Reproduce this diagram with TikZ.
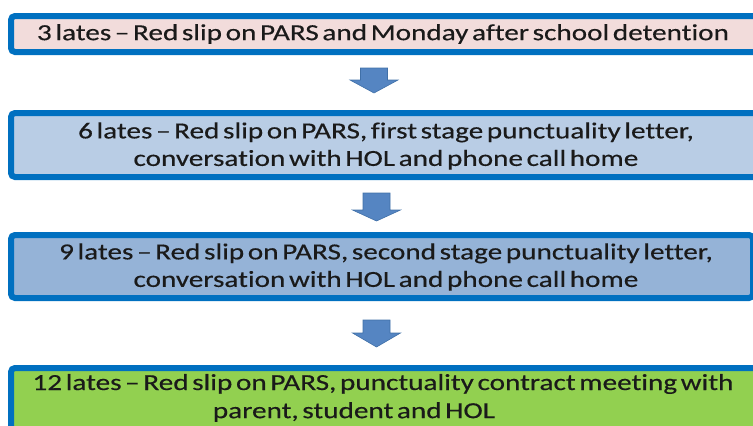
\documentclass[tikz,border=0pt]{standalone}
\usepackage{fontspec}
\setmainfont[FakeStretch=1.27,WordSpace=0.55,Ligatures={NoCommon},FakeBold=0.4]{Carlito}
\usetikzlibrary{calc}
\definecolor{bordblue}{HTML}{0070C0}
\definecolor{fillpink}{HTML}{F2DCDB}
\definecolor{filllblue}{HTML}{B9CDE5}
\definecolor{fillmblue}{HTML}{95B3D7}
\definecolor{fillgreen}{HTML}{92D050}
\definecolor{arrowfill}{HTML}{5585C2}
\definecolor{arrowedge}{HTML}{4070A8}
\definecolor{txt}{HTML}{1A1A1A}
\tikzset{
  stagebox/.style={draw=bordblue, line width=6pt, rounded corners=4pt, inner sep=0pt},
  stagetext/.style={text=txt, align=center, inner sep=0pt, font=\fontsize{23}{27.5}\selectfont},
  blockarrow/.style={fill=arrowfill, draw=arrowedge, line width=0.6pt, line join=miter}
}
\newcommand\blkarrow[4]{% cx, top, headstart, tip
  \path[blockarrow] (#1-13.5,#2) -- (#1+13.5,#2) -- (#1+13.5,#3) -- (#1+24,#3) -- (#1,#4) -- (#1-24,#3) -- (#1-13.5,#3) -- cycle;
}
\begin{document}
\begin{tikzpicture}[x=1pt,y=-1pt]
\useasboundingbox (0,0) rectangle (753,426);
\clip (0,0) rectangle (753,426);
\node[stagebox, fill=fillpink, minimum width=747pt, minimum height=36pt] (b1) at (384.5,34) {};
\node[stagebox, fill=filllblue, minimum width=747pt, minimum height=64pt] (b2) at (384.5,145) {};
\node[stagebox, fill=fillmblue, minimum width=742pt, minimum height=63pt] (b3) at (382,266.5) {};
\node[stagebox, fill=fillgreen, minimum width=747pt, minimum height=77pt] (b4) at (384.5,406.5) {};
\node[stagetext] (t1) at (383,34) {3 lates – Red slip on PARS and Monday after school detention};
\node[stagetext] (t2) at (386,146) {6 lates – Red slip on PARS, first stage punctuality letter,\\conversation with HOL and phone call home};
\node[stagetext] (t3) at (386,267) {9 lates – Red slip on PARS, second stage punctuality letter,\\conversation with HOL and phone call home};
\node[stagetext] (t4a) at (383,384) {12 lates – Red slip on PARS, punctuality contract meeting with};
\node[stagetext] (t4b) at (354,412) {parent, student and HOL};
\blkarrow{374}{68}{80}{93}
\blkarrow{376.5}{193}{210}{221}
\blkarrow{376.5}{320}{333}{347}
\end{tikzpicture}
\end{document}
